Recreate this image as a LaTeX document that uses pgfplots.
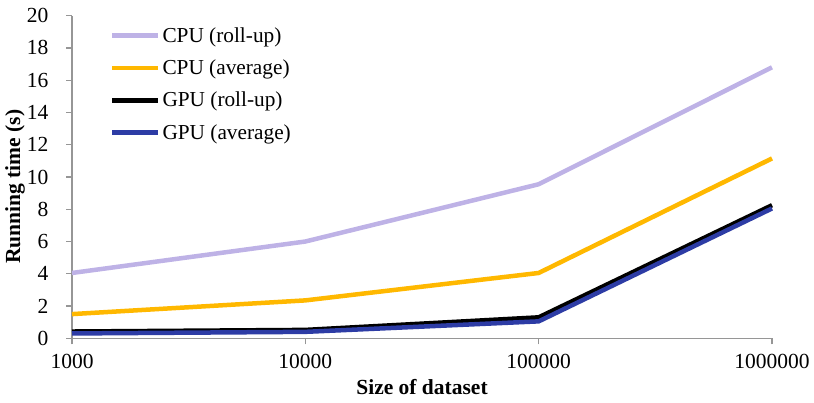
\documentclass[border=0pt]{standalone}
\usepackage{pgfplots}
\pgfplotsset{compat=1.18}
\usepackage{fontspec}
\setmainfont{Liberation Serif}
\definecolor{lav}{RGB}{190,178,230}
\definecolor{gold}{RGB}{255,184,0}
\definecolor{navy}{RGB}{45,60,165}
\definecolor{axgray}{RGB}{150,150,150}
\begin{document}
\begin{tikzpicture}
\begin{axis}[
  name=ax,
  scale only axis, width=700pt, height=322.6pt,
  xmode=log, xmin=1000, xmax=1000000,
  ymin=0, ymax=20, ytick={0,2,...,20},
  xtick={1000,10000,100000,1000000},
  xticklabels={1000,10000,100000,1000000},
  axis x line*=bottom, axis y line*=left,
  axis line style={axgray, line width=1.2pt, -},
  tick style={axgray, line width=1.2pt},
  major tick length=6pt,
  tick align=outside,
  xminorticks=false,
  tick label style={font=\fontsize{21.5}{21.5}\selectfont},
  /pgf/number format/assume math mode=true,
  yticklabel style={xshift=-14pt},
  xticklabel style={yshift=-6pt},
  xlabel={\textbf{Size of dataset}},
  ylabel={\textbf{Running time (s)}},
  label style={font=\fontsize{21.5}{21.5}\selectfont},
  xlabel style={at={(axis description cs:0.5,0)}, anchor=center, yshift=-49pt},
  ylabel style={at={(axis description cs:-0.0814,0.47)}, anchor=center, rotate=0},
  legend style={draw=none, at={(0.054,0.97)}, anchor=north west, font=\fontsize{21.3}{21.3}\selectfont, row sep=12pt, fill=none, inner sep=0pt},
  legend cell align=left,
  legend image code/.code={\draw[#1, line width=4.5pt] (0pt,0pt) -- (46pt,0pt);},
  clip=false,
]
\addplot[lav, line width=4.5pt] coordinates {(1000,4.05) (10000,6.0) (100000,9.55) (1000000,16.8)};
\addlegendentry{CPU (roll-up)}
\addplot[gold, line width=4.5pt] coordinates {(1000,1.5) (10000,2.35) (100000,4.05) (1000000,11.15)};
\addlegendentry{CPU (average)}
\addplot[black, line width=4.5pt] coordinates {(1000,0.42) (10000,0.52) (100000,1.3) (1000000,8.25)};
\addlegendentry{GPU (roll-up)}
\addplot[navy, line width=4.5pt] coordinates {(1000,0.3) (10000,0.4) (100000,1.05) (1000000,8.05)};
\addlegendentry{GPU (average)}
\end{axis}
\pgfresetboundingbox
\path ([shift={(-72pt,-64.7pt)}]ax.south west) rectangle ([shift={(42pt,15.7pt)}]ax.north east);
\end{tikzpicture}
\end{document}
